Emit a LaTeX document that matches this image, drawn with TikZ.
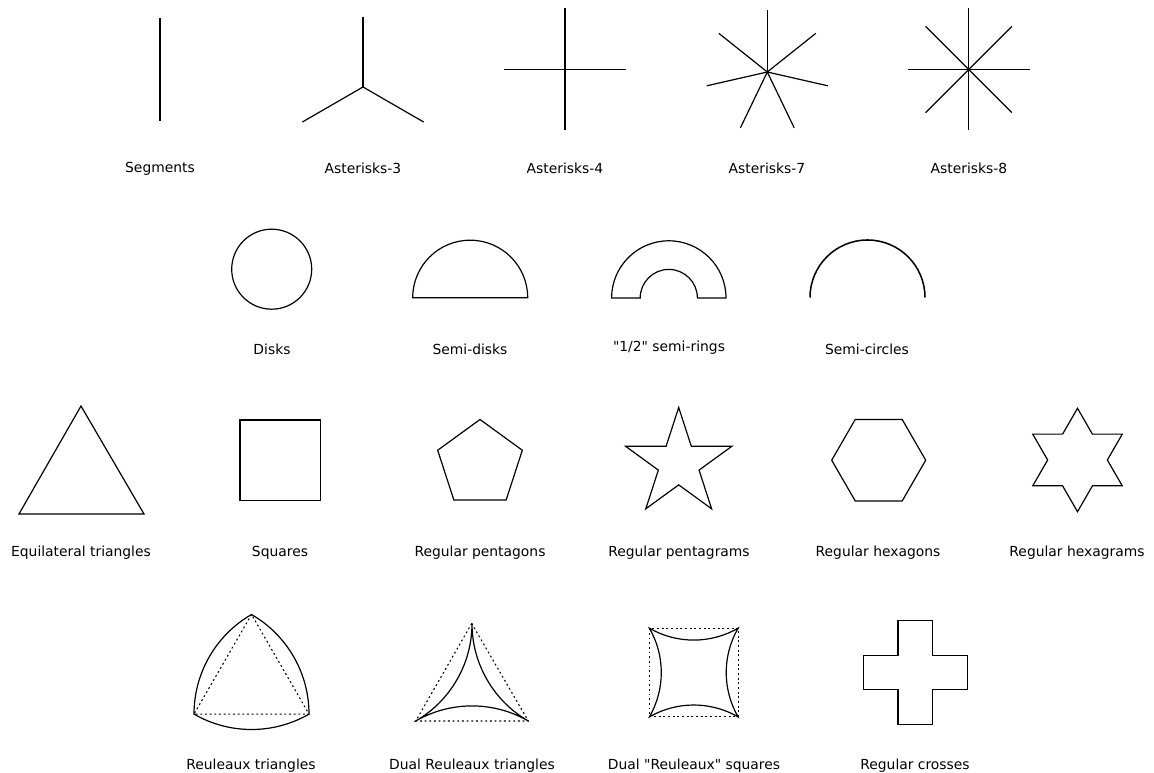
\documentclass[tikz,border=0pt]{standalone}
\usepackage{fontspec}
\setmainfont{DejaVu Sans}[Ligatures=TeXOff]
\begin{document}
\begin{tikzpicture}[x=0.75pt,y=0.75pt,
  shp/.style={draw=black, line width=0.9pt, line join=miter},
  guide/.style={draw=black, line width=0.8pt, dash pattern=on 1.4pt off 2.1pt},
  lbl/.style={inner sep=0pt, font=\fontsize{10.4}{12}\selectfont}]
\useasboundingbox (0,0) rectangle (1154,-773);

% ---------- Row 1 ----------
\coordinate (sg1) at (160,-18);
\coordinate (sg2) at (160,-121);
\draw[shp] (sg1) -- (sg2);
\coordinate (a3) at (363,-87);
\foreach \a in {90,210,330} \draw[shp] (a3) -- ++(\a:70);
\coordinate (a4) at (565,-69.5);
\foreach \a in {0,90,180,270} \draw[shp] (a4) -- ++(\a:61);
\coordinate (a7) at (767.3,-72);
\foreach \k in {0,...,6} \draw[shp] (a7) -- ++({90+\k*360/7}:62);
\coordinate (a8) at (968.7,-69.5);
\foreach \k in {0,...,7} \draw[shp] (a8) -- ++({\k*45}:61);

\node[lbl] (lseg) at (160,-168.5) {Segments};
\node[lbl] (la3) at (363,-168.5) {Asterisks-3};
\node[lbl] (la4) at (565,-168.5) {Asterisks-4};
\node[lbl] (la7) at (767,-168.5) {Asterisks-7};
\node[lbl] (la8) at (969,-168.5) {Asterisks-8};

% ---------- Row 2 ----------
\draw[shp] (271.7,-269.2) circle[radius=40];
\draw[shp] (412.7,-297.7) arc[start angle=180,end angle=0,radius=57.5] -- cycle;
\draw[shp] (611.6,-298) arc[start angle=180,end angle=0,radius=57.2]
  -- ++(-28.6,0) arc[start angle=0,end angle=180,radius=28.6] -- cycle;
\draw[shp, line width=1.15pt] (810,-297.5) arc[start angle=180,end angle=0,radius=57.5];

\node[lbl] (ldisk) at (272,-349) {Disks};
\node[lbl] (lsdisk) at (470,-349) {Semi-disks};
\node[lbl] (lsring) at (669,-348) {"1/2" semi-rings};
\node[lbl] (lscirc) at (867,-349) {Semi-circles};

% ---------- Row 3 ----------
\draw[shp] (81,-406) -- (19,-514) -- (144,-514) -- cycle;
\draw[shp] (240,-420) rectangle (320.7,-500.3);
\draw[shp, shift={(480,-464)}] (90:44.5) -- (162:44.5) -- (234:44.5) -- (306:44.5) -- (18:44.5) -- cycle;
\draw[shp, shift={(678.7,-463.5)}]
  (90:56) -- (126:21.4) -- (162:56) -- (198:21.4) -- (234:56) -- (270:21.4)
  -- (306:56) -- (342:21.4) -- (18:56) -- (54:21.4) -- cycle;
\draw[shp, shift={(878.7,-460.2)}] (0:47) -- (60:47) -- (120:47) -- (180:47) -- (240:47) -- (300:47) -- cycle;
\draw[shp, shift={(1077.5,-460)}]
  (90:51.7) -- (120:29.85) -- (150:51.7) -- (180:29.85) -- (210:51.7) -- (240:29.85)
  -- (270:51.7) -- (300:29.85) -- (330:51.7) -- (0:29.85) -- (30:51.7) -- (60:29.85) -- cycle;

\node[lbl] (ltri) at (81,-552.5) {Equilateral triangles};
\node[lbl] (lsq) at (280,-552.5) {Squares};
\node[lbl] (lpent) at (480,-552.5) {Regular pentagons};
\node[lbl] (lpgram) at (679,-552.5) {Regular pentagrams};
\node[lbl] (lhex) at (878,-552.5) {Regular hexagons};
\node[lbl] (lhgram) at (1077,-552.5) {Regular hexagrams};

% ---------- Row 4 ----------
% Reuleaux triangle
\coordinate (rA) at (251.5,-614.5);
\coordinate (rB) at (194,-714.1);
\coordinate (rC) at (309,-714.1);
\draw[guide] (rA) -- (rB) -- (rC) -- cycle;
\draw[shp] (rB) arc[start angle=180,end angle=120,radius=115]
  arc[start angle=60,end angle=0,radius=115]
  arc[start angle=300,end angle=240,radius=115] -- cycle;

% Dual Reuleaux triangle
\coordinate (dA) at (471.7,-623.5);
\coordinate (dB) at (415.7,-721);
\coordinate (dC) at (528.3,-721);
\draw[guide] (dA) -- (dB) -- (dC) -- cycle;
\draw[shp] (dB) arc[start angle=120,end angle=60,radius=112.6]
  arc[start angle=240,end angle=180,radius=112.6]
  arc[start angle=0,end angle=-60,radius=112.6] -- cycle;

% Dual "Reuleaux" square
\coordinate (qTL) at (649.4,-628.2);
\coordinate (qBR) at (738.1,-716.9);
\draw[guide] (qTL) rectangle (qBR);
\draw[shp] (qTL) arc[start angle=240,end angle=300,radius=88.7]
  arc[start angle=150,end angle=210,radius=88.7]
  arc[start angle=60,end angle=120,radius=88.7]
  arc[start angle=-30,end angle=30,radius=88.7] -- cycle;

% Regular cross
\draw[shp, shift={(915.3,-672.5)}]
  (-17.33,52) -- (17.33,52) -- (17.33,17.33) -- (52,17.33) -- (52,-17.33) -- (17.33,-17.33)
  -- (17.33,-52) -- (-17.33,-52) -- (-17.33,-17.33) -- (-52,-17.33) -- (-52,17.33) -- (-17.33,17.33) -- cycle;

\node[lbl] (lreu) at (251,-765.5) {Reuleaux triangles};
\node[lbl] (ldreu) at (472,-765.5) {Dual Reuleaux triangles};
\node[lbl] (ldsq) at (694,-765.5) {Dual "Reuleaux" squares};
\node[lbl] (lcross) at (915,-765.5) {Regular crosses};
\end{tikzpicture}
\end{document}
